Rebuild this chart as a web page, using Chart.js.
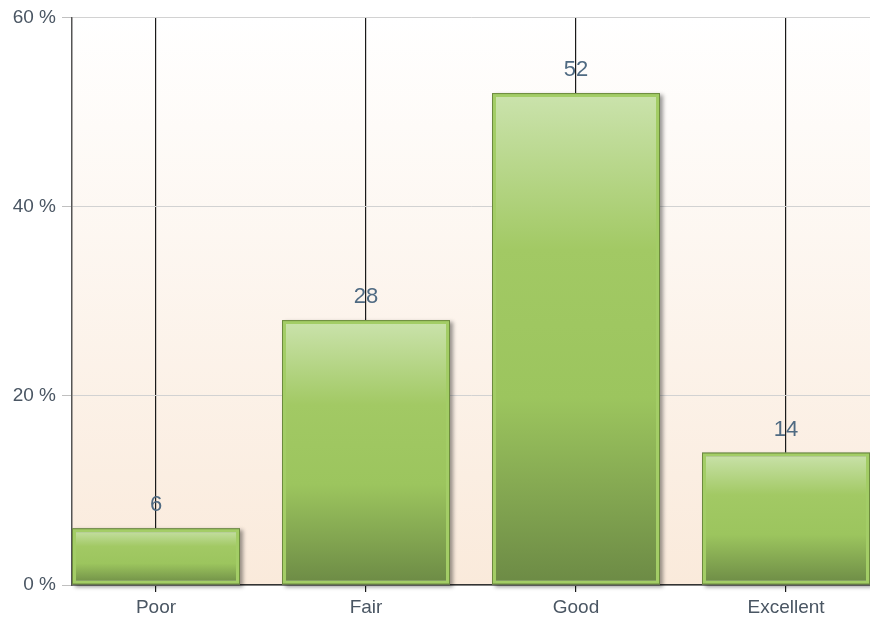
<!DOCTYPE html>
<html>
<head>
<meta charset="utf-8">
<script src="https://cdn.jsdelivr.net/npm/chart.js@4"></script>
<style>
  body { margin: 0; background: #fff; }
  #wrap { width: 870px; height: 622px; }
</style>
</head>
<body>
<div id="wrap"><canvas id="myChart"></canvas></div>
<script>
const categories = ['Poor', 'Fair', 'Good', 'Excellent'];
const ratings = [6, 28, 52, 14];
const yTicks = [0, 20, 40, 60];

const font = "'Liberation Sans', Arial, sans-serif";

// plot background: white at top to light peach at the bottom
const plotBackground = {
    id: 'plotBackground',
    beforeDraw(chart) {
        const { ctx, chartArea: a } = chart;
        const g = ctx.createLinearGradient(0, a.top, 0, a.bottom);
        g.addColorStop(0, '#ffffff');
        g.addColorStop(1, '#faeadb');
        ctx.save();
        ctx.fillStyle = g;
        ctx.fillRect(a.left, a.top, a.right - a.left, a.bottom - a.top);
        ctx.restore();
    }
};

// soft drop shadow behind bars, thin dark outline and value labels on top
const barDecor = {
    id: 'barDecor',
    beforeDatasetsDraw(chart) {
        const { ctx, chartArea: a } = chart;
        ctx.save();
        ctx.beginPath();
        ctx.rect(a.left, a.top, a.right - a.left, a.bottom - a.top + 10);
        ctx.clip();
        chart.getDatasetMeta(0).data.forEach(bar => {
            const p = bar.getProps(['x', 'y', 'base', 'width']);
            ctx.shadowColor = 'rgba(0,0,0,0.4)';
            ctx.shadowBlur = 4;
            ctx.shadowOffsetX = 3;
            ctx.shadowOffsetY = 2;
            ctx.fillStyle = '#999';
            ctx.fillRect(p.x - p.width / 2, p.y, p.width, p.base - p.y);
        });
        ctx.restore();
    },
    afterDatasetsDraw(chart) {
        const { ctx, chartArea: a } = chart;
        const meta = chart.getDatasetMeta(0);
        ctx.save();
        ctx.beginPath();
        ctx.rect(a.left, a.top - 40, a.right - a.left, a.bottom - a.top + 40);
        ctx.clip();
        meta.data.forEach((bar, i) => {
            const p = bar.getProps(['x', 'y', 'base', 'width']);
            ctx.strokeStyle = 'rgba(90,115,50,0.75)';
            ctx.lineWidth = 1;
            ctx.strokeRect(p.x - p.width / 2 + 0.5, p.y + 0.5, p.width - 1, p.base - p.y - 1);
            ctx.fillStyle = '#4f6a82';
            ctx.font = '22px ' + font;
            ctx.textAlign = 'center';
            ctx.textBaseline = 'middle';
            ctx.fillText(ratings[i], p.x, p.y - 23);
        });
        ctx.restore();
    }
};

function barGradient(context) {
    const chart = context.chart;
    const y = chart.scales.y;
    if (!y || !context.parsed) return '#a0c862';
    const top = y.getPixelForValue(context.parsed.y);
    const base = y.getPixelForValue(0);
    if (!isFinite(top) || !isFinite(base) || top === base) return '#a0c862';
    const g = chart.ctx.createLinearGradient(0, top, 0, base);
    g.addColorStop(0, '#cbe3ad');
    g.addColorStop(0.32, '#a2c964');
    g.addColorStop(0.62, '#9cc55e');
    g.addColorStop(1, '#6c8a45');
    return g;
}

const ctx = document.getElementById('myChart').getContext('2d');
const myChart = new Chart(ctx, {
    type: 'bar',
    data: {
        datasets: [{
            label: 'Rating',
            data: categories.map((c, i) => ({ x: i, y: ratings[i] })),
            backgroundColor: barGradient,
            borderColor: '#a3cd66',
            borderWidth: 4,
            borderSkipped: false,
            categoryPercentage: 1,
            barPercentage: 0.8
        }]
    },
    options: {
        responsive: true,
        maintainAspectRatio: false,
        animation: false,
        layout: { padding: { top: 17, right: 0, left: 0, bottom: 0 } },
        plugins: {
            legend: { display: false },
            tooltip: { enabled: false }
        },
        scales: {
            x: {
                type: 'linear',
                min: -0.4,
                max: 3.4,
                offset: false,
                afterFit(scale) { scale.height = 37; },
                afterBuildTicks(scale) { scale.ticks = categories.map((c, i) => ({ value: i })); },
                ticks: {
                    autoSkip: false,
                    maxRotation: 0,
                    padding: 4,
                    color: '#4a5663',
                    font: { family: font, size: 19 },
                    callback: v => categories[v] ?? ''
                },
                grid: {
                    offset: false,
                    color: '#1a1a1a',
                    lineWidth: 1.2,
                    tickLength: 7,
                    tickColor: '#1a1a1a'
                },
                border: { color: '#333', width: 1.5 }
            },
            y: {
                min: 0,
                max: 60,
                afterFit(scale) { scale.width = 72; },
                afterBuildTicks(scale) { scale.ticks = yTicks.map(v => ({ value: v })); },
                ticks: {
                    padding: 6,
                    color: '#4a5663',
                    font: { family: font, size: 19 },
                    callback: v => v + ' %'
                },
                grid: {
                    color: '#d2d2d2',
                    tickLength: 10,
                    tickColor: '#c0c0c0'
                },
                border: { color: '#555', width: 1.5 }
            }
        }
    },
    plugins: [plotBackground, barDecor]
});
</script>
</body>
</html>
